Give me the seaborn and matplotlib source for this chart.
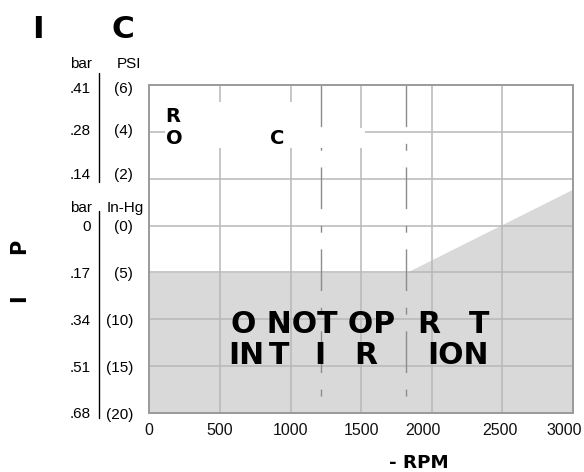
import matplotlib
matplotlib.use("Agg")
import matplotlib.pyplot as plt
from matplotlib.patches import Rectangle
import seaborn as sns

# y axis rows: 3, 2, 1 = 6, 4, 2 PSI boost; 0..-4 = 0..20 In-Hg vacuum
rpm_ticks = [0, 500, 1000, 1500, 2000, 2500, 3000]
rpm_tick_labels = ['0', '500', '1000', '1500', '2000', '2500', '3000']
rpm_label_pos = [0, 500, 1000, 1500, 1935, 2485, 2940]

psi_labels = ['(6)', '(4)', '(2)']
psi_bar_labels = ['.41', '.28', '.14']
psi_label_y = [2.94, 2.04, 1.12]

inhg_labels = ['(0)', '(5)', '(10)', '(15)', '(20)']
inhg_bar_labels = ['0', '.17', '.34', '.51', '.68']
inhg_rows = [0, -1, -2, -3, -4]

# lower edge of the allowed zone (shaded below)
limit_rpm = [0, 1820, 3000]
limit_row = [-1, -1, 0.78]

# dashed speed markers
marker_rpm = [1215, 1820]

big_line1 = [('O NOT OP', 582), ('R', 1898), ('T', 2264)]
big_line2 = [('IN', 557), ('T', 847), ('I', 1166), ('R', 1449), ('ION', 1968)]

sns.set_style('white')
plt.rcParams['font.family'] = ['Liberation Sans', 'DejaVu Sans']
plt.rcParams['text.color'] = 'black'
bold = ['DejaVu Sans']
grid_col = '#b8b8b8'

fig = plt.figure(figsize=(5.84, 4.72), dpi=100)
ax = fig.add_axes([149.3 / 584, 1 - 413 / 472, 423.7 / 584, 328 / 472])
ax.set_xlim(0, 3000)
ax.set_ylim(-4, 3)

ax.fill_between(limit_rpm, limit_row, -4, color='#d9d9d9', lw=0, zorder=0.2)

# grid
for r in rpm_ticks:
    ax.axvline(r, color=grid_col, lw=1.1, zorder=0.5)
for y in range(-3, 3):
    ax.axhline(y, color=grid_col, lw=1.1, zorder=0.5)

for r in marker_rpm:
    ax.plot([r, r], [3, -4], color='#8c8c8c', lw=1, dashes=(30, 12, 5, 12), zorder=1.2)

# white boxes behind the upper labels
ax.add_patch(Rectangle((112, 1.657), 955, 0.98, facecolor='white', lw=0, zorder=1.5))
ax.add_patch(Rectangle((1067, 1.657), 460, 0.43, facecolor='white', lw=0, zorder=1.5))

ax.grid(False)
ax.set_xticks(rpm_label_pos, rpm_tick_labels)
ax.set_yticks([])
ax.tick_params(which='both', length=0)
ax.tick_params(axis='x', pad=7.5, labelsize=11.5, labelcolor='#111111')
for s in ax.spines.values():
    s.set_color('#9a9a9a')
    s.set_linewidth(1.4)

# y scale labels
trans = ax.get_yaxis_transform()
for y, b, p in zip(psi_label_y, psi_bar_labels, psi_labels):
    ax.text(-0.1376, y, b, ha='right', va='center_baseline', transform=trans, fontsize=11)
    ax.text(-0.0385, y, p, ha='right', va='center_baseline', transform=trans, fontsize=11)
for y, b, p in zip(inhg_rows, inhg_bar_labels, inhg_labels):
    ax.text(-0.1376, y, b, ha='right', va='center_baseline', transform=trans, fontsize=11)
    ax.text(-0.0385, y, p, ha='right', va='center_baseline', transform=trans, fontsize=11)
ax.text(-0.1352, 3.49, 'bar', ha='right', va='center_baseline', transform=trans, fontsize=11)
ax.text(-0.049, 3.49, 'PSI', ha='center', va='center_baseline', transform=trans, fontsize=11)
ax.text(-0.1352, 0.40, 'bar', ha='right', va='center_baseline', transform=trans, fontsize=11)
ax.text(-0.0573, 0.40, 'In-Hg', ha='center', va='center_baseline', transform=trans, fontsize=11)
ax.plot([-0.1187, -0.1187], [3.256, 0.932], transform=trans, color='black', lw=1, clip_on=False)
ax.plot([-0.1187, -0.1187], [0.313, -4.10], transform=trans, color='black', lw=1, clip_on=False)

# labels inside the chart
ax.text(113, 2.211, 'R', family=bold, weight='bold', fontsize=14, zorder=3)
ax.text(120, 1.731, 'O', family=bold, weight='bold', fontsize=14, zorder=3)
ax.text(853, 1.731, 'C', family=bold, weight='bold', fontsize=14, zorder=3)

for txt, x in big_line1:
    ax.text(x, -2.29, txt, family=bold, weight='bold', fontsize=21.5, zorder=3)
for txt, x in big_line2:
    ax.text(x, -2.95, txt, family=bold, weight='bold', fontsize=21.5, zorder=3)

# title and axis labels
fig.text(32.2 / 584, 1 - 38.5 / 472, 'I', family=bold, weight='bold', fontsize=22.5)
fig.text(111.4 / 584, 1 - 38.5 / 472, 'C', family=bold, weight='bold', fontsize=22.5)
fig.text(25 / 584, 1 - 246.5 / 472, 'P', family=bold, weight='bold', fontsize=15,
         rotation=90, rotation_mode='anchor', ha='center', va='baseline')
fig.text(25 / 584, 1 - 298.5 / 472, 'I', family=bold, weight='bold', fontsize=15,
         rotation=90, rotation_mode='anchor', ha='center', va='baseline')
fig.text(389 / 584, 1 - 468.4 / 472, '- RPM', family=bold, weight='bold', fontsize=13.2)

fig.savefig('out.png', dpi=100)
